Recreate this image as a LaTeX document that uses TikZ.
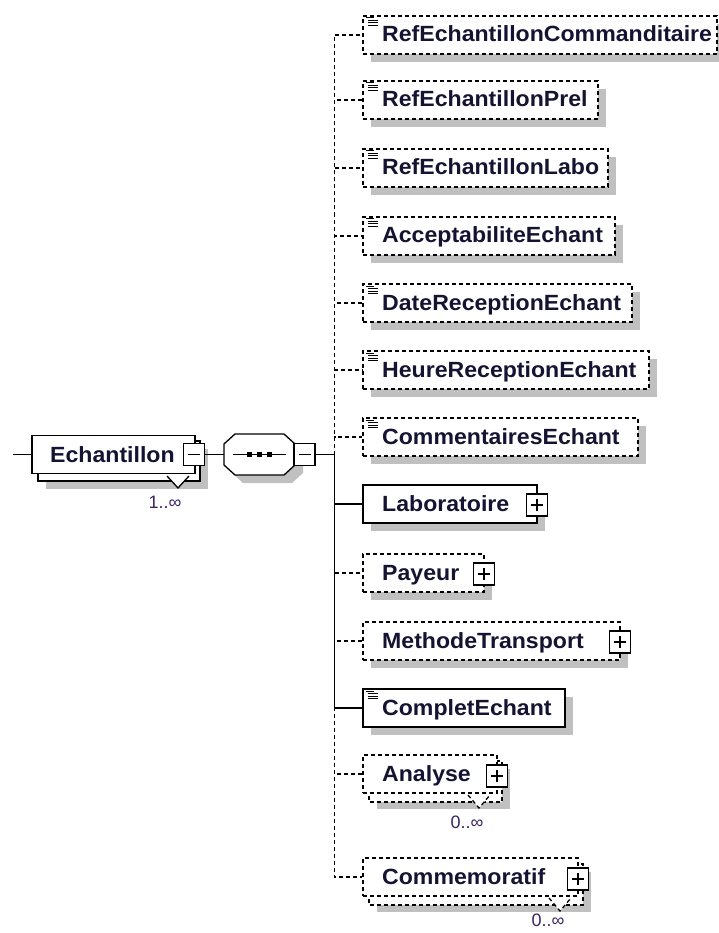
\documentclass[tikz,border=0pt]{standalone}
\usepackage{fontspec}
\setmainfont{Liberation Sans}
\newfontfamily\nmfont[FakeStretch=1.05]{Liberation Sans}
\definecolor{shd}{HTML}{C0C0C0}
\definecolor{txt}{HTML}{141432}
\definecolor{occ}{HTML}{3A2466}
\tikzset{
  lw/.style={line width=1.3pt},
  dsh/.style={dash pattern=on 4pt off 3pt},
  optbox/.style={draw, lw, dsh, fill=white, inner sep=0pt, rectangle},
  reqbox/.style={draw, lw, fill=white, inner sep=0pt, rectangle},
  nm/.style={anchor=base west, inner sep=0pt, text=txt, font=\nmfont\bfseries\fontsize{22}{24}\selectfont},
  oc/.style={inner sep=0pt, text=occ, font=\fontsize{18}{20}\selectfont},
  pmbox/.style={draw, line width=1.2pt, fill=white, minimum width=21pt, minimum height=22pt, inner sep=0pt},
  pml/.style={line width=1.2pt},
  ic/.style={line width=1pt},
  conn/.style={lw},
  oconn/.style={lw, dsh},
}
\newcommand\kidshadow[2]{\fill[shd] (371,#1-11) rectangle (#2+8,#1+27);}
\newcommand\kidbox[5]{%
  \node[#5, minimum width={#3-363}, minimum height=38pt] (#1) at ({(363+#3)/2},#2) {};
  \node[nm] (#1t) at (382,#2+7) {#4};}
\newcommand\kidicon[1]{%
  \draw[ic] (366,#1-17) -- (374,#1-17) (368,#1-14.5) -- (378,#1-14.5)
            (368,#1-12) -- (378,#1-12) (368,#1-9.5) -- (378,#1-9.5);}
\newcommand\kidplus[3]{%
  \node[pmbox] (#1) at (#2,#3) {};
  \draw[pml] (#2-6,#3) -- (#2+6,#3) (#2,#3-6) -- (#2,#3+6);}
\newcommand\kidmulti[4]{% name cy right label-y
  \fill[shd] (377,#2-5) rectangle (#3+13,#2+35);
  \draw[lw,dsh,fill=white] (369,#2-13) rectangle (#3+5,#2+28);
  \draw[lw,dsh,fill=white] (#3-29,#2+21) -- (#3-18,#2+34) -- (#3-7,#2+21);
  \node[oc] (#1o) at (#3-30,#4) {0..∞};}
\begin{document}
\begin{tikzpicture}[x=1pt,y=-1pt]
\useasboundingbox (0,0) rectangle (718,933);

% ---- Echantillon
\fill[shd] (46,449) rectangle (208,489);
\draw[lw, fill=white] (38,441) rectangle (200,481);
\draw[lw, fill=white] (167,476) -- (178,488) -- (189,476);
\node[reqbox, minimum width=163pt, minimum height=38pt] (ech) at (113.5,454.5) {};
\node[nm] (echt) at (50,462) {Echantillon};
\node[pmbox] (echm) at (194,454.5) {};
\draw[pml] (188,454.5) -- (200,454.5);
\node[oc] (echo) at (165,502) {1..∞};
\coordinate (in) at (13,454.5);

% ---- sequence
\fill[shd] (232,452) -- (243,442) -- (292,442) -- (303,452) -- (303,473) -- (292,483) -- (243,483) -- (232,473) -- cycle;
\draw[lw, fill=white] (224,444) -- (235,434) -- (284,434) -- (295,444) -- (295,465) -- (284,475) -- (235,475) -- (224,465) -- cycle;
\node[minimum width=71pt, minimum height=41pt, inner sep=0pt] (seq) at (259.5,454.5) {};
\draw[lw] (233,454.5) -- (286,454.5);
\foreach \cx in {249.5,259.5,269.5} \fill (\cx-2.7,452) rectangle (\cx+2.7,457);
\node[pmbox] (seqm) at (304.5,454.5) {};
\draw[pml] (298.5,454.5) -- (310.5,454.5);
\coordinate (J) at (334.5,454.5);

% ---- children
\kidshadow{35}{717}  \kidbox{c1}{35}{717}{RefEchantillonCommanditaire}{optbox} \kidicon{35}
\kidshadow{100}{598} \kidbox{c2}{100}{598}{RefEchantillonPrel}{optbox} \kidicon{100}
\kidshadow{168}{608} \kidbox{c3}{168}{608}{RefEchantillonLabo}{optbox} \kidicon{168}
\kidshadow{236}{615} \kidbox{c4}{236}{615}{AcceptabiliteEchant}{optbox} \kidicon{236}
\kidshadow{303}{632} \kidbox{c5}{303}{632}{DateReceptionEchant}{optbox} \kidicon{303}
\kidshadow{370}{649} \kidbox{c6}{370}{649}{HeureReceptionEchant}{optbox} \kidicon{370}
\kidshadow{437}{638} \kidbox{c7}{437}{638}{CommentairesEchant}{optbox} \kidicon{437}
\kidshadow{504}{537} \kidbox{c8}{504}{537}{Laboratoire}{reqbox} \kidplus{c8p}{537}{505}
\kidshadow{573}{484} \kidbox{c9}{573}{484}{Payeur}{optbox} \kidplus{c9p}{484}{574}
\kidshadow{641}{620} \kidbox{c10}{641}{620}{MethodeTransport}{optbox} \kidplus{c10p}{620}{642}
\kidshadow{708}{565} \kidbox{c11}{708}{565}{CompletEchant}{reqbox} \kidicon{708}
\kidmulti{c12}{774}{497}{822} \kidbox{c12}{774}{497}{Analyse}{optbox} \kidplus{c12p}{497}{776}
\kidmulti{c13}{877}{578}{920} \kidbox{c13}{877}{578}{Commemoratif}{optbox} \kidplus{c13p}{578}{879}

% ---- connectors
\draw[conn] (in) -- (ech.west);
\draw[conn] (echm.east) -- (seq.west);
\draw[conn] (seqm.east) -- (J);
\foreach \k in {c1,c2,c3,c4,c5,c6,c7,c9,c10,c12,c13}
  \draw[oconn] (J) |- (\k.west);
\foreach \k in {c8,c11}
  \draw[conn] (J) |- (\k.west);
\end{tikzpicture}
\end{document}
